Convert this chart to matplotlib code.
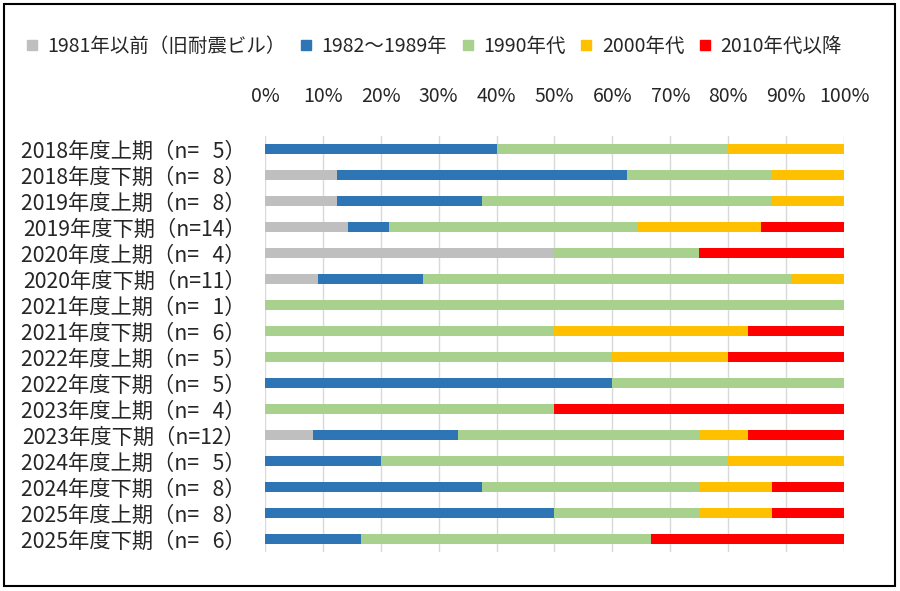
import matplotlib
matplotlib.use("Agg")
import matplotlib.pyplot as plt
from matplotlib.lines import Line2D
from matplotlib.patches import Rectangle
import numpy as np

plt.rcParams["font.family"] = ["Noto Sans CJK JP", "DejaVu Sans"]

periods = [
    "2018年度上期", "2018年度下期", "2019年度上期", "2019年度下期",
    "2020年度上期", "2020年度下期", "2021年度上期", "2021年度下期",
    "2022年度上期", "2022年度下期", "2023年度上期", "2023年度下期",
    "2024年度上期", "2024年度下期", "2025年度上期", "2025年度下期",
]
series_names = ["1981年以前（旧耐震ビル）", "1982～1989年", "1990年代", "2000年代", "2010年代以降"]
colors = ["#BFBFBF", "#2E75B6", "#A9D18E", "#FFC000", "#FF0000"]

# building counts per period
before_1981 = [0, 1, 1, 2, 2, 1, 0, 0, 0, 0, 0, 1, 0, 0, 0, 0]
y1982_1989 = [2, 4, 2, 1, 0, 2, 0, 0, 0, 3, 0, 3, 1, 3, 4, 1]
y1990s = [2, 2, 4, 6, 1, 7, 1, 3, 3, 2, 2, 5, 3, 3, 2, 3]
y2000s = [1, 1, 1, 3, 0, 1, 0, 2, 1, 0, 0, 1, 1, 1, 1, 0]
y2010s = [0, 0, 0, 2, 1, 0, 0, 1, 1, 0, 2, 2, 0, 1, 1, 2]

counts = np.array([before_1981, y1982_1989, y1990s, y2000s, y2010s], dtype=float)
totals = counts.sum(axis=0)
shares = counts / totals

labels = []
for p, n in zip(periods, totals.astype(int)):
    num = str(n) if n >= 10 else "\u2007" + str(n)
    labels.append(f"{p}（n={num}）")

fig = plt.figure(figsize=(9, 5.91), dpi=100)
ax = fig.add_axes([0.2944, 0.066, 0.6434, 0.7034])

y = np.arange(len(periods))
left = np.zeros(len(periods))
for name, vals, col in zip(series_names, shares, colors):
    ax.barh(y, vals, left=left, height=0.4, color=col, label=name, zorder=2)
    left += vals

ax.set_xlim(0, 1)
ax.set_ylim(len(periods) - 0.5, -0.5)
ax.set_yticks(y)
ax.set_yticklabels(labels, fontsize=15.3, color="#262626")
ax.set_xticks(np.linspace(0, 1, 11))
ax.set_xticklabels([f"{i}%" for i in range(0, 101, 10)], fontsize=14, color="#262626")
ax.xaxis.tick_top()
ax.tick_params(axis="x", length=0, pad=21)
ax.tick_params(axis="y", length=0, pad=14)
ax.grid(axis="x", color="#D9D9D9", linewidth=1, zorder=0)
for s in ax.spines.values():
    s.set_visible(False)

handles = [Line2D([], [], marker="s", linestyle="none", markersize=7.5, color=c) for c in colors]
fig.legend(handles, series_names, loc="center left", bbox_to_anchor=(0.005, 0.921),
           ncol=5, frameon=False, fontsize=14, handletextpad=0.3,
           columnspacing=0.55, handlelength=1.0, labelcolor="#262626")

fig.patches.append(Rectangle((0.004, 0.008), 0.99, 0.985, transform=fig.transFigure,
                             fill=False, edgecolor="black", linewidth=1.5))

fig.savefig("out.png", dpi=100)
